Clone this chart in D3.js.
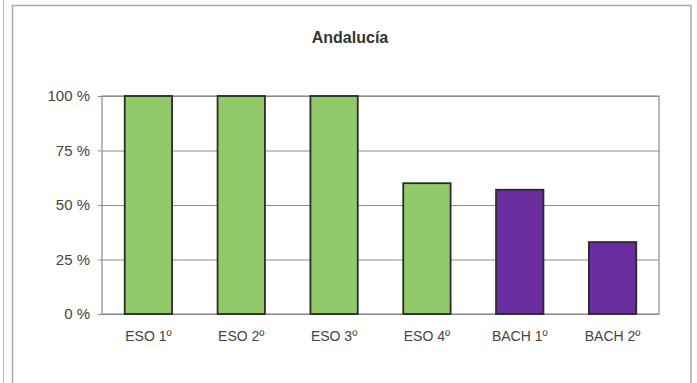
<!DOCTYPE html>
<html><head><meta charset="utf-8">
<script src="https://cdn.jsdelivr.net/npm/d3@7"></script>
<style>body{margin:0;background:#fff}svg{display:block}</style>
</head><body>
<svg id="c" width="697" height="383"></svg>
<script>
const title = "Andalucía";
const categories = ["ESO 1º","ESO 2º","ESO 3º","ESO 4º","BACH 1º","BACH 2º"];
const values = [100,100,100,60,57,33];
const groups = ["ESO","ESO","ESO","ESO","BACH","BACH"];
const yTicks = [0,25,50,75,100];
const colors = {ESO:"#92c96a", BACH:"#6a2d9f"};

const svg = d3.select("#c");
const m = {l:102, r:697-659, t:96, b:383-314};
const W = 697, H = 383;
const font = "'Liberation Sans', Arial, sans-serif";
// frames
svg.append("line").attr("x1",3.5).attr("x2",3.5).attr("y1",0).attr("y2",H).attr("stroke","#bbb");
svg.append("rect").attr("x",12.5).attr("y",5.5).attr("width",691-12.5).attr("height",H).attr("fill","#fff").attr("stroke","#aaa").attr("stroke-width",1.5);

const x = d3.scaleBand().domain(categories).range([m.l, W-m.r]).paddingInner(0.49).paddingOuter(0.245);
const y = d3.scaleLinear().domain([0,100]).range([H-m.b, m.t]);

const g = svg.append("g");
const ya = d3.axisLeft(y).tickValues(yTicks).tickSize(-(W-m.l-m.r)).tickFormat(d=>d+" %").tickPadding(12);
const yg = g.append("g").attr("transform",`translate(${m.l},0)`).call(ya);
yg.select(".domain").remove();
yg.selectAll(".tick line").attr("stroke","#8c8c8c").attr("stroke-width",1.2).attr("x1",-4);
yg.selectAll(".tick text").attr("fill","#444").style("font-family",font).style("font-size","15px");
g.append("rect").attr("x",m.l).attr("y",m.t).attr("width",W-m.l-m.r).attr("height",H-m.b-m.t)
 .attr("fill","none").attr("stroke","#8c8c8c").attr("stroke-width",1.2);

g.selectAll(".bar").data(categories).join("rect").attr("class","bar")
 .attr("x",d=>x(d)).attr("width",x.bandwidth())
 .attr("y",(d,i)=>y(values[i])).attr("height",(d,i)=>y(0)-y(values[i]))
 .attr("fill",(d,i)=>colors[groups[i]]).attr("stroke","#2b2b2b").attr("stroke-width",1.8);

const xa = d3.axisBottom(x).tickSize(0).tickPadding(17);
const xg = g.append("g").attr("transform",`translate(0,${H-m.b})`).call(xa);
xg.select(".domain").remove();
xg.selectAll(".tick text").attr("fill","#444").style("font-family",font).style("font-size","14px");

svg.append("text").attr("x",350).attr("y",43).attr("text-anchor","middle")
 .style("font-family",font).style("font-size","16px").style("font-weight","bold").attr("fill","#333").text(title);
</script>
</body></html>
